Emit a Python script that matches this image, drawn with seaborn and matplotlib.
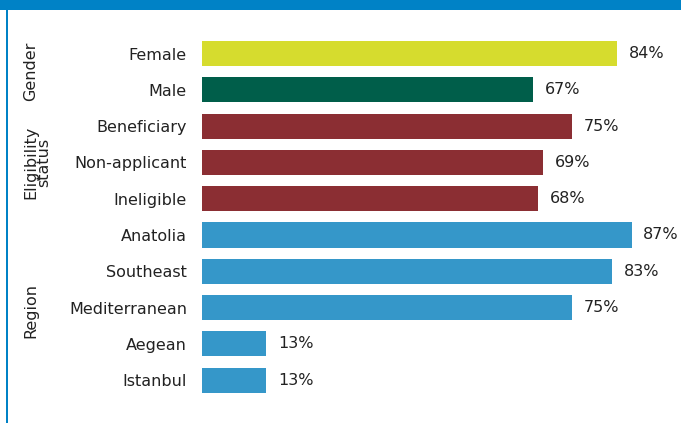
import matplotlib
matplotlib.use("Agg")
import matplotlib.pyplot as plt
from matplotlib.patches import Rectangle
import seaborn as sns
import pandas as pd

# Share of respondents by group
categories = ["Female", "Male", "Beneficiary", "Non-applicant", "Ineligible",
              "Anatolia", "Southeast", "Mediterranean", "Aegean", "Istanbul"]
values = [84, 67, 75, 69, 68, 87, 83, 75, 13, 13]
groups = ["Female", "Male", "Eligibility", "Eligibility", "Eligibility",
          "Region", "Region", "Region", "Region", "Region"]
palette = {"Female": "#D6DC2E", "Male": "#005E4A",
           "Eligibility": "#8B2E33", "Region": "#3597C9"}

df = pd.DataFrame({"category": categories, "value": values, "group": groups})

sns.set_theme(style="white")
plt.rcParams["font.family"] = ["DejaVu Sans"]
text_color = "#222222"
fs = 11.5

W, H = 681, 423
fig = plt.figure(figsize=(W / 100, H / 100), dpi=100)
ax = fig.add_axes([202 / W, 1 - 398.3 / H, 474 / W, (398.3 - 35.4) / H])

sns.barplot(data=df, x="value", y="category", hue="group", palette=palette,
            dodge=False, width=0.69, legend=False, saturation=1,
            order=categories, linewidth=0, ax=ax)

ax.set_xlim(0, 96)
ax.set_ylim(len(categories) - 0.5, -0.5)
ax.set_xlabel("")
ax.set_ylabel("")
ax.set_xticks([])
ax.tick_params(axis="y", length=0, pad=10.8, labelsize=fs, labelcolor=text_color)
for s in ax.spines.values():
    s.set_visible(False)

for cont in ax.containers:
    ax.bar_label(cont, labels=[f"{v:.0f}%" for v in cont.datavalues],
                 padding=8.5, fontsize=fs, color=text_color)

# Group titles on the left
fig.text(31 / W, 1 - 71 / H, "Gender", rotation=90, ha="center", va="center",
         fontsize=fs, color=text_color)
fig.text(37 / W, 1 - 162 / H, "Eligibility\nstatus", rotation=90, ha="center",
         va="center", fontsize=fs, color=text_color, linespacing=0.85)
fig.text(31 / W, 1 - 311 / H, "Region", rotation=90, ha="center", va="center",
         fontsize=fs, color=text_color)

# Frame: top band and left rule
fig.patches.append(Rectangle((0, 1 - 10 / H), 1, 10 / H, transform=fig.transFigure,
                             facecolor="#0082C6", edgecolor="none", zorder=5))
fig.patches.append(Rectangle((6 / W, 0), 2 / W, 1, transform=fig.transFigure,
                             facecolor="#0082C6", edgecolor="none", zorder=5))

fig.savefig("out.png", dpi=100)
